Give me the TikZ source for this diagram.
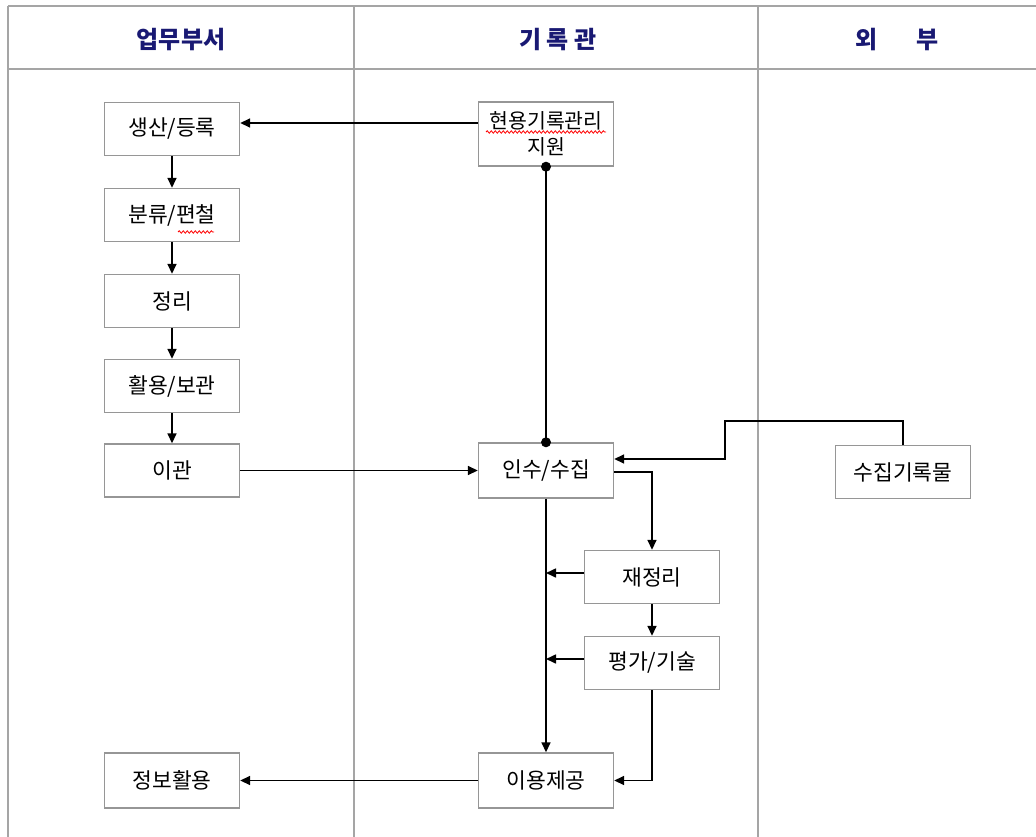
\documentclass[tikz,border=0pt]{standalone}
\usepackage{fontspec}
\setmainfont{Noto Sans CJK KR}
\usetikzlibrary{arrows.meta,decorations.pathmorphing}
\definecolor{boxgray}{RGB}{150,150,150}
\definecolor{linegray}{RGB}{165,165,165}
\definecolor{headblue}{RGB}{25,25,115}
\begin{document}
\begin{tikzpicture}[x=1pt,y=-1pt,
  box/.style={draw=boxgray, line width=1.4pt, fill=white, minimum width=135pt, minimum height=53pt, inner sep=0pt, font=\fontsize{21.5}{30}\selectfont, align=center},
  conn/.style={line width=1.6pt, -{Triangle[length=10pt,width=9pt]}},
  plainline/.style={line width=1.6pt},
  frame/.style={draw=linegray, line width=1.2pt},
  head/.style={text=headblue, font=\fontsize{24}{28}\bfseries\selectfont},
  wave/.style={draw=red, line width=0.8pt, decorate, decoration={snake, amplitude=1.2pt, segment length=4pt}}]
\useasboundingbox (0,0) rectangle (1036,837);
\fill[white] (0,0) rectangle (1036,837);
% frame
\draw[frame, line width=2pt] (8,6.5) -- (1036,6.5);
\draw[frame, line width=2pt] (8,69.5) -- (1036,69.5);
\draw[frame] (8,6) -- (8,837);
\draw[frame] (354,6) -- (354,837);
\draw[frame] (758,6) -- (758,837);
% headers
\node[head] (h1) at (181,40) {업무부서};
\node[head] (h2) at (558,40) {기 록 관};
\node[head] (h3) at (897,40) {외\hspace{1.6em}부};
% left column
\node[box] (prod) at (172,129) {생산/등록};
\node[box] (cls) at (172,215) {분류/편철};
\node[box] (arr) at (172,301) {정리};
\node[box] (uses) at (172,386) {활용/보관};
\node[box] (tr) at (172,470.5) {이관};
\node[box, minimum height=55pt] (info) at (172,780.5) {정보활용};
% center column
\node[box, minimum height=64pt, font=\fontsize{20.5}{30}\selectfont] (cur) at (546,134) {현용기록관리\\[-4pt]지원};
\node[box, minimum height=55pt] (acq) at (546,470.5) {인수/수집};
\node[box] (reo) at (652,577) {재정리};
\node[box] (eva) at (652,663) {평가/기술};
\node[box, minimum height=55pt] (use) at (546,780.5) {이용제공};
% right column
\node[box] (coll) at (903,472) {수집기록물};
% spellcheck underlines
\draw[wave] (486,132) -- (606,132);
\draw[wave] (178,232) -- (214,232);
% connectors
\draw[conn] (cur.west |- 0,123) -- (prod.east |- 0,123);
\draw[conn] (prod) -- (cls);
\draw[conn] (cls) -- (arr);
\draw[conn] (arr) -- (uses);
\draw[conn] (uses) -- (tr);
\draw[plainline] (cur.south) -- (acq.north);
\fill (cur.south) circle (5pt);
\fill (acq.north) circle (5pt);
\draw[conn] (tr.east) -- (acq.west);
\coordinate (c1) at (725,421);
\draw[conn] (coll.north) |- (c1) |- (acq.east |- 0,459);
\draw[conn] (acq.east |- 0,472) -| (reo.north);
\draw[conn] (acq.south) -- (use.north);
\draw[conn] (reo.west |- 0,573) -- (acq.south |- 0,573);
\draw[conn] (reo) -- (eva);
\draw[conn] (eva.west |- 0,659) -- (acq.south |- 0,659);
\draw[conn] (eva.south) |- (use.east);
\draw[conn] (use.west) -- (info.east);
\end{tikzpicture}
\end{document}
